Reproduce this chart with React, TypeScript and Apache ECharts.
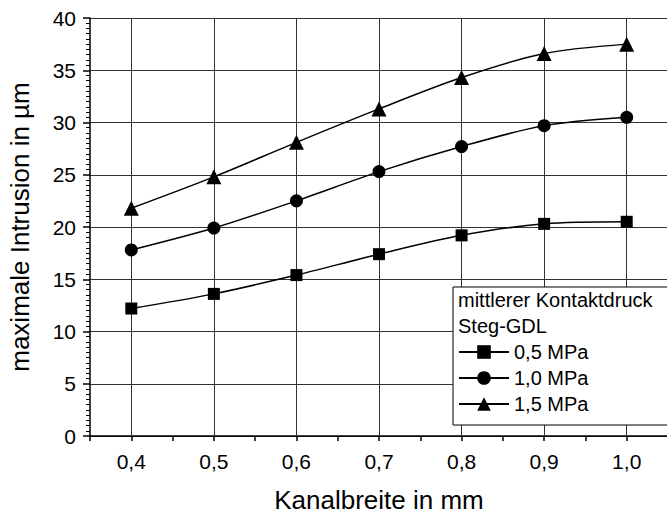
import React, { useEffect, useRef } from "react";
import * as echarts from "echarts";

const kanalbreite = [0.4, 0.5, 0.6, 0.7, 0.8, 0.9, 1.0];
const intrusion05 = [12.2, 13.6, 15.4, 17.4, 19.2, 20.3, 20.5];
const intrusion10 = [17.8, 19.9, 22.5, 25.3, 27.7, 29.7, 30.5];
const intrusion15 = [21.8, 24.8, 28.1, 31.3, 34.3, 36.6, 37.5];
const seriesNames = ["0,5 MPa", "1,0 MPa", "1,5 MPa"];
const seriesSymbols = ["rect", "circle", "triangle"];
const symbolSizes = [12, 13, 15];
const legendTitle = ["mittlerer Kontaktdruck", "Steg-GDL"];
const gridXValues = [0.4, 0.5, 0.6, 0.7, 0.8, 0.9, 1.0];

const FONT = "'Liberation Sans', Arial, sans-serif";

export default function App() {
  const ref = useRef<HTMLDivElement>(null);
  useEffect(() => {
    if (!ref.current) return;
    const chart = echarts.init(ref.current, null, { renderer: "svg" });
    const allData = [intrusion05, intrusion10, intrusion15];
    const series: any[] = allData.map((vals, i) => ({
      name: seriesNames[i],
      type: "line",
      data: kanalbreite.map((x, j) => [x, vals[j]]),
      smooth: 0.3,
      symbol: seriesSymbols[i],
      symbolSize: symbolSizes[i],
      lineStyle: { color: "#000", width: 1.5 },
      itemStyle: { color: "#000" },
      z: 5,
    }));
    series.push({
      type: "line",
      data: [],
      silent: true,
      markLine: {
        silent: true,
        symbol: "none",
        label: { show: false },
        lineStyle: { color: "#333", width: 1, type: "solid" },
        data: gridXValues.map((v) => ({ xAxis: v })),
      },
      z: 1,
    });
    chart.setOption({
      animation: false,
      textStyle: { fontFamily: FONT },
      grid: {
        left: 90,
        top: 18,
        width: 578,
        height: 418,
        containLabel: false,
        outerBoundsMode: "none",
      },
      xAxis: {
        type: "value",
        min: 0.35,
        max: 1.05,
        interval: 0.05,
        name: "Kanalbreite in mm",
        nameLocation: "middle",
        nameGap: 51,
        nameTextStyle: { fontSize: 26, color: "#000", fontFamily: FONT },
        axisLine: { onZero: false, lineStyle: { color: "#000", width: 1.5 } },
        axisTick: { show: true, inside: false, length: 5, lineStyle: { color: "#000", width: 1.5 } },
        axisLabel: {
          color: "#000",
          fontSize: 21,
          fontFamily: FONT,
          margin: 15,
          formatter: (v: number) => {
            const t = v * 10;
            if (Math.abs(t - Math.round(t)) < 1e-6 && v > 0.36 && v < 1.04) {
              return v.toFixed(1).replace(".", ",");
            }
            return "";
          },
        },
        splitLine: { show: false },
      },
      yAxis: {
        type: "value",
        min: 0,
        max: 40,
        interval: 5,
        name: "maximale Intrusion in µm",
        nameLocation: "middle",
        nameGap: 57,
        nameTextStyle: { fontSize: 26, color: "#000", fontFamily: FONT },
        axisLine: { show: true, lineStyle: { color: "#000", width: 1.5 } },
        axisTick: { show: true, inside: false, length: 7, lineStyle: { color: "#000", width: 1.5 } },
        minorTick: { show: true, splitNumber: 10, length: 4, lineStyle: { color: "#000", width: 1 } },
        axisLabel: { color: "#000", fontSize: 21, fontFamily: FONT, margin: 14 },
        splitLine: { show: true, lineStyle: { color: "#333", width: 1 } },
      },
      legend: {
        show: true,
        z: 100,
        orient: "vertical",
        left: 458,
        top: 342,
        padding: 0,
        itemWidth: 50,
        itemHeight: 17,
        itemGap: 6,
        data: seriesNames,
        textStyle: { color: "#000", fontSize: 20, fontFamily: FONT },
        selectedMode: false,
      },
      graphic: [
        {
          type: "rect",
          z: 50,
          shape: { x: 453, y: 287, width: 260, height: 138 },
          style: { fill: "#fff", stroke: "#000", lineWidth: 1 },
        },
        {
          type: "text",
          z: 51,
          x: 458,
          y: 300,
          style: { text: legendTitle[0], fill: "#000", font: `20px ${FONT}`, verticalAlign: "middle" },
        },
        {
          type: "text",
          z: 51,
          x: 458,
          y: 326,
          style: { text: legendTitle[1], fill: "#000", font: `20px ${FONT}`, verticalAlign: "middle" },
        },
      ],
      series,
    });
    return () => chart.dispose();
  }, []);
  return (
    <div
      ref={ref}
      style={{ position: "fixed", left: 0, top: 0, width: 667, height: 514, background: "#fff" }}
    />
  );
}
